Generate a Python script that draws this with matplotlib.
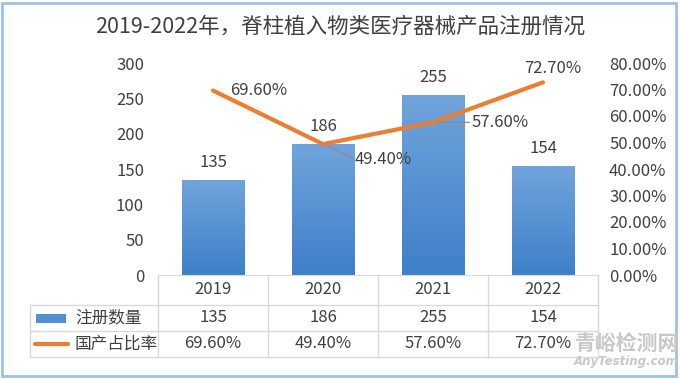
import matplotlib
matplotlib.use("Agg")
from matplotlib import pyplot as plt
from matplotlib import transforms
from matplotlib.colors import LinearSegmentedColormap
from matplotlib.patches import Rectangle
from matplotlib.lines import Line2D
import numpy as np

plt.rcParams['font.family'] = ['Noto Sans CJK SC', 'DejaVu Sans']

years = ["2019", "2020", "2021", "2022"]
counts = [135, 186, 255, 154]
domestic_ratio = [0.696, 0.494, 0.576, 0.727]
count_name = "注册数量"
ratio_name = "国产占比率"
title = "2019-2022年，脊柱植入物类医疗器械产品注册情况"

W, H = 680, 379
TXT = "#404040"
GRID = "#D9D9D9"
BLUE = "#5290D3"
ORANGE = "#ED7D31"
FS = 12


def fx(px):
    return px / W


def fy(py):
    return (H - py) / H


fig = plt.figure(figsize=(W / 100, H / 100), dpi=100)
fig.patch.set_facecolor("white")

# light blue frame around the whole picture
fig.patches.append(Rectangle((fx(2), fy(376)), fx(674), 373 / H, transform=fig.transFigure,
                             fill=False, edgecolor="#9DC3E6", lw=2))

fig.text(0.5, fy(27), title, ha="center", va="center", fontsize=15.5, color=TXT)

ax = fig.add_axes([fx(158), fy(275), fx(440), 212 / H])
x = np.arange(len(years))

bars = ax.bar(x, counts, width=0.57, color="none", zorder=2)
cmap = LinearSegmentedColormap.from_list("bar", ["#3E80C9", "#70A4DB"])
grad = np.linspace(0, 1, 100).reshape(-1, 1)
for b in bars:
    im = ax.imshow(grad, extent=[b.get_x(), b.get_x() + b.get_width(), 0, b.get_height()],
                   origin="lower", aspect="auto", cmap=cmap, zorder=2)
    im.set_clip_path(b)

ax.set_xlim(-0.5, len(years) - 0.5)
ax.set_ylim(0, 300)
ax.set_yticks(range(0, 301, 50))
ax.set_xticks([])
for s in ["left", "right", "top"]:
    ax.spines[s].set_visible(False)
ax.spines["bottom"].set_color(GRID)
ax.tick_params(axis="y", length=0, labelsize=FS, labelcolor=TXT, pad=10)

for xi, v in zip(x, counts):
    ax.annotate(str(v), (xi, v), xytext=(0, 9), textcoords="offset pixels",
                ha="center", va="bottom", fontsize=FS, color=TXT)

ax2 = ax.twinx()
ax2.plot(x, domestic_ratio, color=ORANGE, lw=3, solid_capstyle="round", zorder=3)
ax2.set_ylim(0, 0.8)
ax2.set_yticks(np.arange(0, 0.81, 0.1))
ax2.set_yticklabels([f"{t * 100:.2f}%" for t in np.arange(0, 0.81, 0.1)])
ax2.tick_params(axis="y", length=0, labelsize=FS, labelcolor=TXT, pad=8)
for s in ["left", "right", "top", "bottom"]:
    ax2.spines[s].set_visible(False)

# line labels: (offset x, offset y, ha, leader)
label_pos = [(17, 0, "left", False), (32, -15, "left", True),
             (39, 0, "left", True), (10, 14, "center", False)]
for xi, v, (dx, dy, ha, lead) in zip(x, domestic_ratio, label_pos):
    kw = {}
    if lead:
        kw["arrowprops"] = dict(arrowstyle="-", color="#8C8C8C", lw=0.9,
                                shrinkA=0, shrinkB=3, relpos=(0, 0.5))
    ax2.annotate(f"{v * 100:.2f}%", (xi, v), xytext=(dx, dy), textcoords="offset pixels",
                 ha=ha, va="center", fontsize=FS, color=TXT, zorder=4, **kw)

# data table below the chart
tr = transforms.blended_transform_factory(ax.transData, fig.transFigure)
edges = np.arange(len(years) + 1) - 0.5
row_lines = [305, 331, 357]
for e in edges:
    fig.add_artist(Line2D([e, e], [fy(275), fy(357)], transform=tr, color=GRID, lw=1))
fig.add_artist(Line2D([fx(30), fx(30)], [fy(305), fy(357)], transform=fig.transFigure,
                      color=GRID, lw=1))
x_right = ax.get_position().x1
for r in row_lines:
    fig.add_artist(Line2D([fx(30), x_right], [fy(r), fy(r)], transform=fig.transFigure,
                          color=GRID, lw=1))

for xi, yr, c, p in zip(x, years, counts, domestic_ratio):
    fig.text(xi, fy(290), yr, transform=tr, ha="center", va="center", fontsize=FS, color=TXT)
    fig.text(xi, fy(318), str(c), transform=tr, ha="center", va="center", fontsize=FS, color=TXT)
    fig.text(xi, fy(344), f"{p * 100:.2f}%", transform=tr, ha="center", va="center",
             fontsize=FS, color=TXT)

fig.patches.append(Rectangle((fx(36), fy(323)), fx(30), 9 / H, transform=fig.transFigure,
                             facecolor=BLUE, edgecolor="none"))
fig.text(fx(75), fy(318), count_name, ha="left", va="center", fontsize=FS, color=TXT)
fig.add_artist(Line2D([fx(35), fx(68)], [fy(344), fy(344)], transform=fig.transFigure,
                      color=ORANGE, lw=3, solid_capstyle="round"))
fig.text(fx(75), fy(344), ratio_name, ha="left", va="center", fontsize=FS, color=TXT)

# watermark text
fig.text(fx(627), fy(343), "青峪检测网", ha="center", va="center", fontsize=15,
         color="#C8C8C8", fontweight="bold")
fig.text(fx(626), fy(362), "AnyTesting.com", ha="center", va="center", fontsize=8.5,
         color="#C8C8C8", fontstyle="italic", fontweight="bold", family="DejaVu Sans")

fig.savefig("out.png", dpi=100)
